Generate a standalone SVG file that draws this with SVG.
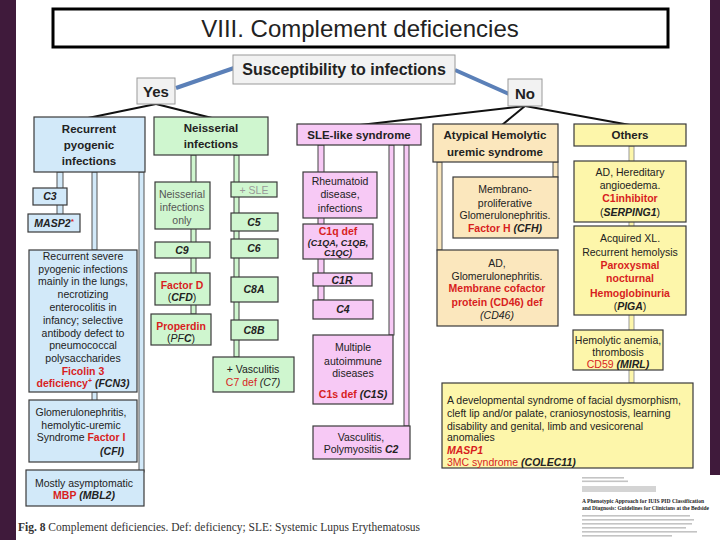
<svg xmlns="http://www.w3.org/2000/svg" width="720" height="540" viewBox="0 0 720 540">
<style>
text{font-family:"Liberation Sans",Arial,sans-serif;fill:#222}
.t{font-size:10.5px;text-anchor:middle}
.tl{font-size:10.5px}
.h{font-size:11.5px;font-weight:bold;text-anchor:middle}
.r{fill:#d81e1e}
.b{font-weight:bold}
.i{font-style:italic}
.bi{font-weight:bold;font-style:italic}
.g{fill:#555}
.lg{fill:#999}
.serif{font-family:"Liberation Serif","Times New Roman",serif}
.box{stroke:#3a3a3a;stroke-width:1.2}
.blue{fill:#d2e9f9}
.green{fill:#cff6cf}
.pink{fill:#f7c9f5}
.tan{fill:#fbe7bd}
.yel{fill:#fdf6aa}
.gray{fill:#f2f2f2;stroke:#9a9a9a;stroke-width:1}
.cb{fill:#d2e9f9;stroke:#555;stroke-width:1}
.cg{fill:#cff6cf;stroke:#444;stroke-width:1}
.cp{fill:#f7c9f5;stroke:#444;stroke-width:1}
.ct{fill:#fbe7bd;stroke:#555;stroke-width:1}
.cy{fill:#fdf6aa;stroke:#999;stroke-width:1}
.blk{stroke:#111;stroke-width:2;fill:none}
.bl{stroke:#5b80b8;stroke-width:4;fill:none}
.thumb{fill:#c4c4c4}
</style>
<rect width="720" height="540" fill="#fff"/>
<rect x="0" y="0" width="16" height="540" fill="#3f1a3b"/>
<rect x="710" y="0" width="10" height="475" fill="#3f1a3b"/>

<g id="connectors">
<line class="bl" x1="176" y1="88" x2="234" y2="68"/>
<line class="bl" x1="455" y1="70" x2="509" y2="94"/>
<line class="blk" x1="156" y1="104" x2="88" y2="118"/>
<line class="blk" x1="156" y1="104" x2="212" y2="118"/>
<line class="blk" x1="525" y1="106" x2="360" y2="125"/>
<line class="blk" x1="525" y1="106" x2="502" y2="125"/>
<line class="blk" x1="525" y1="106" x2="630" y2="125"/>
<rect class="cb" x="57" y="172" width="6" height="43"/>
<rect class="cb" x="92" y="172" width="5" height="78"/>
<rect class="cb" x="92" y="392" width="5" height="9"/>
<rect class="cb" x="139" y="172" width="5" height="300"/>
<rect class="cg" x="191" y="155" width="5" height="159"/>
<rect class="cg" x="234" y="155" width="5" height="202"/>
<rect class="cp" x="318" y="145" width="6" height="155"/>
<rect class="cp" x="389" y="145" width="5" height="190"/>
<rect class="cp" x="404" y="145" width="5" height="281"/>
<rect class="ct" x="437" y="162" width="5" height="88"/>
<rect class="ct" x="553" y="162" width="5" height="15"/>
<rect class="cy" x="629" y="146" width="5" height="237"/>
</g>

<g id="title"><rect x="53" y="9" width="615" height="38" fill="#fff" stroke="#000" stroke-width="3"/><text x="360" y="37" font-size="24" text-anchor="middle">VIII. Complement deficiencies</text></g>

<g id="susceptibility"><rect class="gray" x="233" y="55" width="222" height="29"/><text x="344" y="75" font-size="16" font-weight="bold" text-anchor="middle">Susceptibility to infections</text></g>
<g id="yes"><rect class="gray" x="137" y="78" width="38" height="26"/><text x="156" y="97" font-size="15" font-weight="bold" text-anchor="middle">Yes</text></g>
<g id="no"><rect class="gray" x="508" y="79" width="34" height="27"/><text x="525" y="99" font-size="15" font-weight="bold" text-anchor="middle">No</text></g>

<g id="recurrent-pyogenic"><rect class="box blue" x="34" y="117" width="111" height="55"/>
<text class="h" x="89" y="133">Recurrent</text><text class="h" x="89" y="149">pyogenic</text><text class="h" x="89" y="165">infections</text></g>
<g id="c3"><rect class="box blue" x="33" y="188" width="34" height="17"/><text class="t bi" x="50" y="200">C3</text></g>
<g id="masp2"><rect class="box blue" x="28" y="214" width="52" height="18"/><text class="t bi" x="54" y="227">MASP2<tspan class="r" font-size="8" dy="-3">*</tspan></text></g>
<g id="ficolin3"><rect class="box blue" x="29" y="250" width="108" height="142"/>
<text class="t" x="83" y="260">Recurrent severe</text>
<text class="t" x="83" y="273">pyogenic infections</text>
<text class="t" x="83" y="285">mainly in the lungs,</text>
<text class="t" x="83" y="298">necrotizing</text>
<text class="t" x="83" y="311">enterocolitis in</text>
<text class="t" x="83" y="324">infancy; selective</text>
<text class="t" x="83" y="337">antibody defect to</text>
<text class="t" x="83" y="349">pneumococcal</text>
<text class="t" x="83" y="362">polysaccharides</text>
<text class="t b r" x="83" y="375">Ficolin 3</text>
<text class="t" x="83" y="387"><tspan class="b r">deficiency</tspan><tspan class="b r" font-size="7" dy="-4">+</tspan><tspan class="bi" dy="4"> (FCN3)</tspan></text></g>
<g id="factor-i"><rect class="box blue" x="29" y="400" width="108" height="62"/>
<text class="t" x="81" y="416">Glomerulonephritis,</text>
<text class="t" x="81" y="429">hemolytic-uremic</text>
<text class="t" x="81" y="441">Syndrome <tspan class="b r">Factor I</tspan></text>
<text class="tl bi" x="124" y="455" text-anchor="end">(CFI)</text></g>
<g id="mbp"><rect class="box blue" x="26" y="470" width="118" height="36"/>
<text class="t" x="84" y="487">Mostly asymptomatic</text>
<text class="t" x="84" y="499"><tspan class="b r">MBP</tspan><tspan class="bi"> (MBL2)</tspan></text></g>

<g id="neisserial"><rect class="box green" x="154" y="117" width="114" height="38"/>
<text class="h" x="211" y="132">Neisserial</text><text class="h" x="211" y="148">infections</text></g>
<g id="neisserial-only"><rect class="box green" x="155" y="182" width="55" height="47"/>
<text class="t g" x="182" y="198">Neisserial</text><text class="t g" x="182" y="211">infections</text><text class="t g" x="182" y="224">only</text></g>
<g id="plus-sle"><rect class="box green" x="231" y="182" width="46" height="15"/><text class="t lg" x="254" y="193.5">+ SLE</text></g>
<g id="c5"><rect class="box green" x="231" y="213" width="47" height="18"/><text class="t bi" x="254" y="226">C5</text></g>
<g id="c6"><rect class="box green" x="231" y="239" width="47" height="19"/><text class="t bi" x="254" y="252">C6</text></g>
<g id="c9"><rect class="box green" x="155" y="242" width="55" height="16"/><text class="t bi" x="182" y="254">C9</text></g>
<g id="factor-d"><rect class="box green" x="155" y="273" width="55" height="32"/>
<text class="t b r" x="182" y="289">Factor D</text><text class="t" x="182" y="301"><tspan>(</tspan><tspan class="bi">CFD</tspan><tspan>)</tspan></text></g>
<g id="c8a"><rect class="box green" x="231" y="277" width="47" height="25"/><text class="t bi" x="254" y="293">C8A</text></g>
<g id="properdin"><rect class="box green" x="151" y="314" width="60" height="31"/>
<text class="t b r" x="181" y="330">Properdin</text><text class="t" x="181" y="342">(<tspan class="i">PF</tspan><tspan class="bi">C</tspan>)</text></g>
<g id="c8b"><rect class="box green" x="231" y="320" width="47" height="20"/><text class="t bi" x="254" y="334">C8B</text></g>
<g id="c7"><rect class="box green" x="213" y="357" width="81" height="35"/>
<text class="t" x="253" y="373">+ Vasculitis</text><text class="t" x="253" y="386"><tspan class="r">C7 def</tspan><tspan class="i"> (C7)</tspan></text></g>

<g id="sle-like"><rect class="box pink" x="297" y="124" width="124" height="21"/><text class="h" x="359" y="139">SLE-like syndrome</text></g>
<g id="rheumatoid"><rect class="box pink" x="303" y="172" width="74" height="46"/>
<text class="t" x="340" y="185">Rheumatoid</text><text class="t" x="340" y="198">disease,</text><text class="t" x="340" y="212">infections</text></g>
<g id="c1q"><rect class="box pink" x="303" y="224" width="70" height="35"/>
<text class="t b r" x="338" y="235">C1q def</text>
<text class="bi" x="338" y="246" font-size="9" text-anchor="middle">(C1QA, C1QB,</text>
<text class="bi" x="338" y="256" font-size="9" text-anchor="middle">C1QC)</text></g>
<g id="c1r"><rect class="box pink" x="313" y="273" width="59" height="13"/><text class="t bi" x="342" y="283.5">C1R</text></g>
<g id="c4"><rect class="box pink" x="313" y="300" width="60" height="19"/><text class="t bi" x="343" y="313">C4</text></g>
<g id="c1s"><rect class="box pink" x="313" y="335" width="80" height="69"/>
<text class="t" x="353" y="351">Multiple</text><text class="t" x="353" y="365">autoimmune</text><text class="t" x="353" y="377">diseases</text>
<text class="t" x="353" y="398"><tspan class="b r">C1s def</tspan><tspan class="bi"> (C1S)</tspan></text></g>
<g id="c2"><rect class="box pink" x="313" y="426" width="97" height="33"/>
<text class="t" x="361" y="441">Vasculitis,</text><text class="t" x="361" y="453">Polymyositis  <tspan class="bi">C2</tspan></text></g>

<g id="ahus"><rect class="box tan" x="433" y="124" width="125" height="38"/>
<text class="h" x="495" y="139">Atypical Hemolytic</text><text class="h" x="495" y="156">uremic syndrome</text></g>
<g id="factor-h"><rect class="box tan" x="453" y="177" width="105" height="61"/>
<text class="t" x="505" y="193">Membrano-</text><text class="t" x="505" y="207">proliferative</text><text class="t" x="505" y="219">Glomerulonephritis.</text>
<text class="t" x="505" y="232"><tspan class="b r">Factor H</tspan><tspan class="bi"> (CFH)</tspan></text></g>
<g id="cd46"><rect class="box tan" x="437" y="250" width="121" height="76"/>
<text class="t" x="497" y="267">AD,</text><text class="t" x="497" y="280">Glomerulonephritis.</text>
<text class="t b r" x="497" y="292">Membrane cofactor</text><text class="t b r" x="497" y="306">protein (CD46) def</text>
<text class="t i" x="497" y="319">(CD46)</text></g>

<g id="others"><rect class="box yel" x="574" y="124" width="112" height="22"/><text class="h" x="630" y="139">Others</text></g>
<g id="serping1"><rect class="box yel" x="574" y="161" width="112" height="61"/>
<text class="t" x="630" y="176">AD, Hereditary</text><text class="t" x="630" y="189">angioedema.</text>
<text class="t b r" x="630" y="202">C1inhibitor</text><text class="t" x="630" y="216">(<tspan class="bi">SERPING1</tspan>)</text></g>
<g id="piga"><rect class="box yel" x="574" y="226" width="112" height="89"/>
<text class="t" x="630" y="242">Acquired XL.</text><text class="t" x="630" y="256">Recurrent hemolysis</text>
<text class="t b r" x="630" y="269">Paroxysmal</text><text class="t b r" x="630" y="282">nocturnal</text><text class="t b r" x="630" y="297">Hemoglobinuria</text>
<text class="t" x="630" y="310">(<tspan class="bi">PIGA</tspan>)</text></g>
<g id="cd59"><rect class="box yel" x="573" y="330" width="90" height="40"/>
<text class="t" x="618" y="344">Hemolytic anemia,</text><text class="t" x="618" y="356">thrombosis</text>
<text class="t" x="618" y="368"><tspan class="r">CD59</tspan><tspan class="bi"> (MIRL)</tspan></text></g>
<g id="masp1-colec11"><rect class="box yel" x="442" y="383" width="251" height="85"/>
<text class="tl" x="447" y="404">A developmental syndrome of facial dysmorphism,</text>
<text class="tl" x="447" y="417">cleft lip and/or palate, craniosynostosis, learning</text>
<text class="tl" x="447" y="430">disability and genital, limb and vesicorenal</text>
<text class="tl" x="447" y="441">anomalies</text>
<text class="tl bi r" x="447" y="454">MASP1</text>
<text class="tl" x="447" y="466"><tspan class="r">3MC syndrome</tspan><tspan class="bi"> (COLEC11)</tspan></text></g>

<g id="caption"><text class="serif" x="18" y="531" style="font-size:11.5px;fill:#333"><tspan font-weight="bold">Fig. 8</tspan>  Complement deficiencies. Def: deficiency; SLE: Systemic Lupus Erythematosus</text></g>

<g id="paper-thumbnail">
<rect class="thumb" x="582" y="477" width="42" height="1.6"/>
<rect class="thumb" x="582" y="480.5" width="46" height="1.6"/>
<rect x="582" y="486" width="74" height="6" fill="#d4d4d4"/>
<text class="serif" x="582" y="503" style="font-size:5.6px;font-weight:bold" textLength="122" lengthAdjust="spacingAndGlyphs">A Phenotypic Approach for IUIS PID Classification</text>
<text class="serif" x="582" y="509.5" style="font-size:5.6px;font-weight:bold" textLength="127" lengthAdjust="spacingAndGlyphs">and Diagnosis: Guidelines for Clinicians at the Bedside</text>
<rect class="thumb" x="582" y="515" width="108" height="1.6"/>
<rect class="thumb" x="582" y="519" width="112" height="1.6"/>
<rect class="thumb" x="582" y="523" width="110" height="1.6"/>
<rect class="thumb" x="582" y="527" width="104" height="1.6"/>
<rect class="thumb" x="582" y="531" width="115" height="1.6"/>
<rect class="thumb" x="582" y="535" width="90" height="1.6"/>
</g>
</svg>
